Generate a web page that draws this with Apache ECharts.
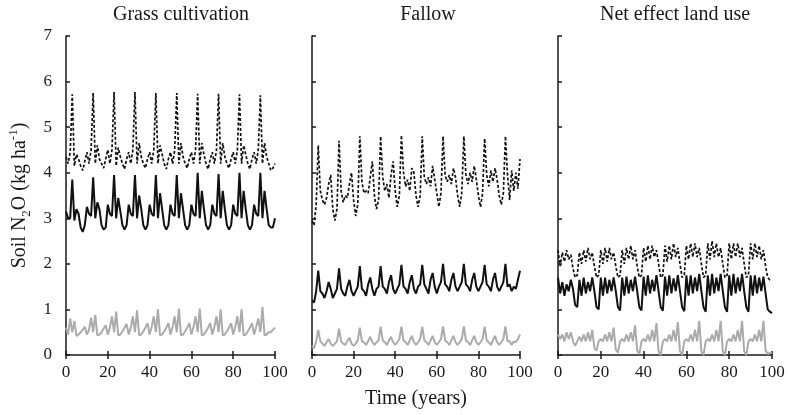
<!DOCTYPE html>
<html>
<head>
<meta charset="utf-8">
<script src="https://cdn.jsdelivr.net/npm/echarts@6/dist/echarts.min.js"></script>
<style>
  html, body { margin: 0; padding: 0; background: #fff; }
  #main { width: 788px; height: 415px; }
</style>
</head>
<body>
<div id="main"></div>
<script>
// years 0..100 (x values)
var years = [];
for (var i = 0; i <= 100; i++) years.push(i);

var panelTitles = ['Grass cultivation', 'Fallow', 'Net effect land use'];

// Grass cultivation
var grassDashed = [
  4.35, 4.2, 4.45, 5.72, 4.15, 4.4, 4.3, 4.15, 4.05, 4.25,
  4.45, 4.2, 4.5, 5.75, 4.2, 4.6, 4.3, 4.2, 4.1, 4.3,
  4.5, 4.2, 4.5, 5.77, 4.15, 4.55, 4.35, 4.2, 4.08, 4.3,
  4.45, 4.2, 4.5, 5.77, 4.2, 4.65, 4.35, 4.2, 4.1, 4.3,
  4.45, 4.2, 4.5, 5.75, 4.2, 4.6, 4.4, 4.2, 4.08, 4.3,
  4.45, 4.2, 4.5, 5.75, 4.2, 4.65, 4.35, 4.2, 4.1, 4.3,
  4.45, 4.2, 4.5, 5.73, 4.2, 4.65, 4.4, 4.2, 4.08, 4.3,
  4.45, 4.2, 4.5, 5.73, 4.2, 4.65, 4.35, 4.2, 4.1, 4.3,
  4.45, 4.2, 4.5, 5.72, 4.2, 4.6, 4.4, 4.2, 4.08, 4.3,
  4.45, 4.2, 4.5, 5.7, 4.2, 4.65, 4.35, 4.2, 4.05, 4.1, 4.2
];
var grassSolid = [
  3.15, 3.0, 3.0, 3.85, 2.95, 3.2, 3.1, 2.8, 2.7, 2.85,
  3.25, 3.1, 3.05, 3.9, 3.0, 3.35, 3.2, 2.85, 2.75, 2.8,
  3.3, 3.1, 3.05, 3.95, 3.0, 3.45, 3.15, 2.85, 2.75, 2.85,
  3.3, 3.1, 3.05, 3.95, 3.0, 3.5, 3.2, 2.85, 2.75, 2.85,
  3.3, 3.1, 3.05, 3.95, 3.0, 3.55, 3.2, 2.85, 2.75, 2.85,
  3.3, 3.1, 3.05, 3.95, 3.0, 3.55, 3.2, 2.85, 2.75, 2.85,
  3.3, 3.1, 3.05, 4.0, 3.0, 3.6, 3.2, 2.85, 2.75, 2.85,
  3.3, 3.1, 3.05, 3.97, 3.0, 3.6, 3.2, 2.85, 2.75, 2.85,
  3.3, 3.1, 3.05, 4.0, 3.0, 3.6, 3.2, 2.85, 2.75, 2.85,
  3.3, 3.1, 3.05, 4.0, 3.0, 3.6, 3.2, 2.85, 2.8, 2.8, 3.0
];
var grassGray = [
  0.6, 0.45, 0.8, 0.5, 0.75, 0.42, 0.45, 0.5, 0.55, 0.62,
  0.45, 0.55, 0.82, 0.5, 0.88, 0.43, 0.45, 0.5, 0.58, 0.65,
  0.45, 0.6, 0.85, 0.5, 0.95, 0.43, 0.45, 0.52, 0.6, 0.68,
  0.45, 0.6, 0.85, 0.5, 0.98, 0.43, 0.45, 0.52, 0.6, 0.7,
  0.45, 0.62, 0.85, 0.5, 1.0, 0.43, 0.45, 0.52, 0.6, 0.7,
  0.45, 0.62, 0.85, 0.5, 1.02, 0.43, 0.45, 0.52, 0.6, 0.7,
  0.45, 0.62, 0.85, 0.5, 1.02, 0.43, 0.45, 0.52, 0.6, 0.7,
  0.45, 0.62, 0.85, 0.5, 1.0, 0.43, 0.45, 0.52, 0.6, 0.7,
  0.45, 0.62, 0.85, 0.5, 1.0, 0.43, 0.45, 0.52, 0.6, 0.7,
  0.45, 0.62, 0.8, 0.5, 1.05, 0.43, 0.45, 0.5, 0.5, 0.55, 0.6
];

// Fallow
var fallowDashed = [
  2.95, 2.85, 3.3, 4.6, 3.6, 3.4, 3.3, 3.45, 3.75, 3.95,
  3.2, 2.95, 3.2, 4.7, 3.6, 3.35, 3.5, 3.45, 3.75, 4.0,
  3.4, 3.05, 3.3, 4.8, 3.8, 3.55, 3.6, 3.55, 3.9, 4.25,
  3.5, 3.2, 3.4, 4.8, 3.9, 3.6, 3.75, 3.45, 3.95, 4.25,
  3.6, 3.25, 3.5, 4.82, 4.0, 3.7, 3.85, 3.6, 4.1, 4.0,
  3.5, 3.25, 3.5, 4.8, 3.9, 3.75, 3.9, 3.7, 4.15, 3.85,
  3.55, 3.25, 3.55, 4.8, 3.95, 3.8, 3.95, 3.75, 4.1, 3.9,
  3.5, 3.25, 3.55, 4.8, 3.95, 3.75, 4.0, 3.8, 4.15, 3.85,
  3.5, 3.25, 3.55, 4.75, 3.95, 3.7, 4.05, 3.8, 4.1, 3.85,
  3.5, 3.3, 3.55, 4.8, 3.95, 3.4, 4.05, 3.6, 4.0, 3.65, 4.3
];
var fallowSolid = [
  1.2, 1.15, 1.4, 1.85, 1.4, 1.35, 1.25, 1.4, 1.6, 1.45,
  1.25, 1.35, 1.45, 1.9, 1.45, 1.35, 1.3, 1.5, 1.65, 1.4,
  1.3, 1.4, 1.5, 1.95, 1.45, 1.4, 1.3, 1.55, 1.7, 1.45,
  1.3, 1.45, 1.5, 1.95, 1.5, 1.45, 1.35, 1.6, 1.75, 1.45,
  1.35, 1.45, 1.55, 1.98, 1.5, 1.45, 1.35, 1.6, 1.75, 1.45,
  1.35, 1.5, 1.55, 1.98, 1.55, 1.45, 1.35, 1.65, 1.8, 1.5,
  1.35, 1.5, 1.6, 2.0, 1.55, 1.5, 1.4, 1.65, 1.8, 1.5,
  1.4, 1.5, 1.6, 2.0, 1.55, 1.5, 1.4, 1.65, 1.8, 1.5,
  1.4, 1.5, 1.6, 1.98, 1.55, 1.5, 1.4, 1.65, 1.8, 1.5,
  1.4, 1.5, 1.6, 2.0, 1.5, 1.55, 1.4, 1.5, 1.45, 1.65, 1.85
];
var fallowGray = [
  0.2, 0.15, 0.3, 0.55, 0.3, 0.25, 0.2, 0.28, 0.35, 0.25,
  0.2, 0.25, 0.3, 0.58, 0.3, 0.25, 0.22, 0.3, 0.38, 0.25,
  0.2, 0.25, 0.32, 0.6, 0.3, 0.28, 0.22, 0.3, 0.4, 0.28,
  0.22, 0.28, 0.32, 0.62, 0.32, 0.28, 0.22, 0.32, 0.4, 0.28,
  0.22, 0.28, 0.35, 0.62, 0.32, 0.28, 0.22, 0.32, 0.42, 0.28,
  0.22, 0.28, 0.35, 0.62, 0.32, 0.28, 0.22, 0.32, 0.42, 0.28,
  0.22, 0.28, 0.35, 0.63, 0.32, 0.28, 0.22, 0.32, 0.42, 0.28,
  0.22, 0.28, 0.35, 0.63, 0.32, 0.28, 0.22, 0.32, 0.42, 0.28,
  0.22, 0.28, 0.35, 0.62, 0.32, 0.28, 0.22, 0.32, 0.42, 0.28,
  0.22, 0.28, 0.35, 0.63, 0.3, 0.3, 0.22, 0.3, 0.28, 0.35, 0.45
];

// Net effect land use
var netDashed = [
  2.3, 1.95, 2.25, 2.05, 2.3, 2.1, 2.2, 1.9, 1.7, 1.75,
  2.25, 2.0, 2.3, 2.05, 2.35, 2.1, 2.25, 1.95, 1.7, 1.75,
  2.3, 2.0, 2.35, 2.05, 2.35, 2.1, 2.25, 1.95, 1.7, 1.75,
  2.3, 2.0, 2.35, 2.1, 2.4, 2.1, 2.3, 1.95, 1.7, 1.75,
  2.35, 2.05, 2.4, 2.1, 2.4, 2.15, 2.3, 2.0, 1.7, 1.75,
  2.4, 2.05, 2.4, 2.1, 2.45, 2.15, 2.35, 2.0, 1.7, 1.75,
  2.4, 2.1, 2.45, 2.15, 2.45, 2.15, 2.35, 2.0, 1.7, 1.75,
  2.45, 2.1, 2.5, 2.15, 2.45, 2.15, 2.35, 2.0, 1.7, 1.75,
  2.45, 2.1, 2.45, 2.15, 2.45, 2.15, 2.35, 2.0, 1.7, 1.75,
  2.45, 2.1, 2.45, 2.15, 2.4, 2.1, 2.3, 1.95, 1.7, 1.65, 1.65
];
var netSolid = [
  1.7, 1.35, 1.6, 1.3, 1.55, 1.4, 1.65, 1.45, 1.1, 1.05,
  1.65, 1.3, 1.7, 1.35, 1.6, 1.4, 1.7, 1.4, 1.05, 1.0,
  1.7, 1.3, 1.7, 1.35, 1.65, 1.4, 1.7, 1.4, 1.05, 0.98,
  1.7, 1.3, 1.72, 1.35, 1.65, 1.4, 1.72, 1.4, 1.05, 0.98,
  1.72, 1.3, 1.75, 1.35, 1.65, 1.4, 1.75, 1.4, 1.05, 0.97,
  1.72, 1.3, 1.75, 1.35, 1.68, 1.4, 1.75, 1.4, 1.05, 0.96,
  1.75, 1.3, 1.75, 1.35, 1.7, 1.4, 1.78, 1.4, 1.05, 0.95,
  1.75, 1.3, 1.78, 1.35, 1.7, 1.4, 1.78, 1.4, 1.05, 0.95,
  1.75, 1.3, 1.78, 1.35, 1.7, 1.4, 1.78, 1.4, 1.05, 0.95,
  1.75, 1.3, 1.75, 1.35, 1.7, 1.4, 1.72, 1.35, 1.0, 0.95, 0.92
];
var netGray = [
  0.45, 0.35, 0.45, 0.3, 0.5, 0.35, 0.5, 0.3, 0.2, 0.3,
  0.4, 0.3, 0.45, 0.3, 0.5, 0.3, 0.55, 0.15, 0.1, 0.3,
  0.35, 0.3, 0.45, 0.3, 0.5, 0.3, 0.6, 0.12, 0.05, 0.3,
  0.35, 0.3, 0.45, 0.3, 0.5, 0.3, 0.65, 0.1, 0.02, 0.3,
  0.35, 0.3, 0.45, 0.3, 0.55, 0.3, 0.7, 0.08, 0.0, 0.3,
  0.35, 0.3, 0.45, 0.3, 0.55, 0.3, 0.72, 0.08, 0.0, 0.3,
  0.35, 0.3, 0.45, 0.3, 0.55, 0.3, 0.75, 0.08, 0.0, 0.3,
  0.35, 0.3, 0.45, 0.3, 0.55, 0.3, 0.75, 0.08, 0.0, 0.3,
  0.35, 0.3, 0.45, 0.3, 0.55, 0.3, 0.75, 0.08, 0.0, 0.3,
  0.35, 0.3, 0.45, 0.3, 0.55, 0.3, 0.75, 0.1, 0.02, 0.05, 0.05
];

var panels = [
  [grassGray, grassSolid, grassDashed],
  [fallowGray, fallowSolid, fallowDashed],
  [netGray, netSolid, netDashed]
];

var FONT = 'Liberation Serif';
var INK = '#1a1a1a';

var grids = [
  { left: 66, width: 209, top: 36, height: 319 },
  { left: 312, width: 208, top: 36, height: 319 },
  { left: 558, width: 214, top: 36, height: 319 }
];
var titleX = [181, 428, 675];

function pairs(arr) {
  return years.map(function (t, i) { return [t, arr[i]]; });
}

var xAxes = [], yAxes = [], series = [], graphics = [];
grids.forEach(function (g, p) {
  // main x axis with labels, ticks outside
  xAxes.push({
    gridIndex: p, type: 'value', min: 0, max: 100, interval: 20,
    axisLine: { show: true, lineStyle: { color: INK, width: 1.5 } },
    axisTick: { show: true, length: 4, lineStyle: { color: INK, width: 1.5 } },
    axisLabel: { color: INK, fontFamily: FONT, fontSize: 17, margin: 9 },
    splitLine: { show: false },
    name: p === 1 ? 'Time (years)' : '',
    nameLocation: 'middle', nameGap: 34,
    nameTextStyle: { color: INK, fontFamily: FONT, fontSize: 20 }
  });
  // overlay axis for the inner half of the crossing ticks
  xAxes.push({
    gridIndex: p, type: 'value', min: 0, max: 100, interval: 20, position: 'bottom',
    axisLine: { show: false },
    axisTick: { show: true, inside: true, length: 4, lineStyle: { color: INK, width: 1.5 } },
    axisLabel: { show: false },
    splitLine: { show: false }
  });
  yAxes.push({
    gridIndex: p, type: 'value', min: 0, max: 7, interval: 1,
    axisLine: { show: true, lineStyle: { color: INK, width: 1.5 } },
    axisTick: { show: true, inside: true, length: 4, lineStyle: { color: INK, width: 1.5 } },
    axisLabel: { show: p === 0, color: INK, fontFamily: FONT, fontSize: 17, margin: 14 },
    splitLine: { show: false },
    name: p === 0 ? 'Soil N{sub|2}O (kg ha{sup|-1})' : '',
    nameLocation: 'middle', nameRotate: 90, nameGap: 33,
    nameTextStyle: {
      color: INK, fontFamily: FONT, fontSize: 20, lineHeight: 26,
      rich: {
        sub: { fontFamily: FONT, fontSize: 13, color: INK, verticalAlign: 'bottom', lineHeight: 26 },
        sup: { fontFamily: FONT, fontSize: 13, color: INK, verticalAlign: 'top', lineHeight: 26 }
      }
    }
  });
  var set = panels[p];
  series.push({
    type: 'line', xAxisIndex: p * 2, yAxisIndex: p, data: pairs(set[0]),
    showSymbol: false, lineStyle: { color: '#ababab', width: 2 }, z: 2
  });
  series.push({
    type: 'line', xAxisIndex: p * 2, yAxisIndex: p, data: pairs(set[1]),
    showSymbol: false, lineStyle: { color: '#111', width: 2 }, z: 3
  });
  series.push({
    type: 'line', xAxisIndex: p * 2, yAxisIndex: p, data: pairs(set[2]),
    showSymbol: false, lineStyle: { color: '#111', width: 1.7, type: [3, 2] }, z: 4
  });
  graphics.push({
    type: 'text', x: titleX[p], y: 15,
    style: {
      text: panelTitles[p], fill: INK, font: '20px "' + FONT + '"',
      textAlign: 'center', textVerticalAlign: 'middle'
    }
  });
});

var chart = echarts.init(document.getElementById('main'));
chart.setOption({
  animation: false,
  backgroundColor: '#fff',
  textStyle: { fontFamily: FONT },
  grid: grids,
  xAxis: xAxes,
  yAxis: yAxes,
  series: series,
  graphic: graphics
});
</script>
</body>
</html>
